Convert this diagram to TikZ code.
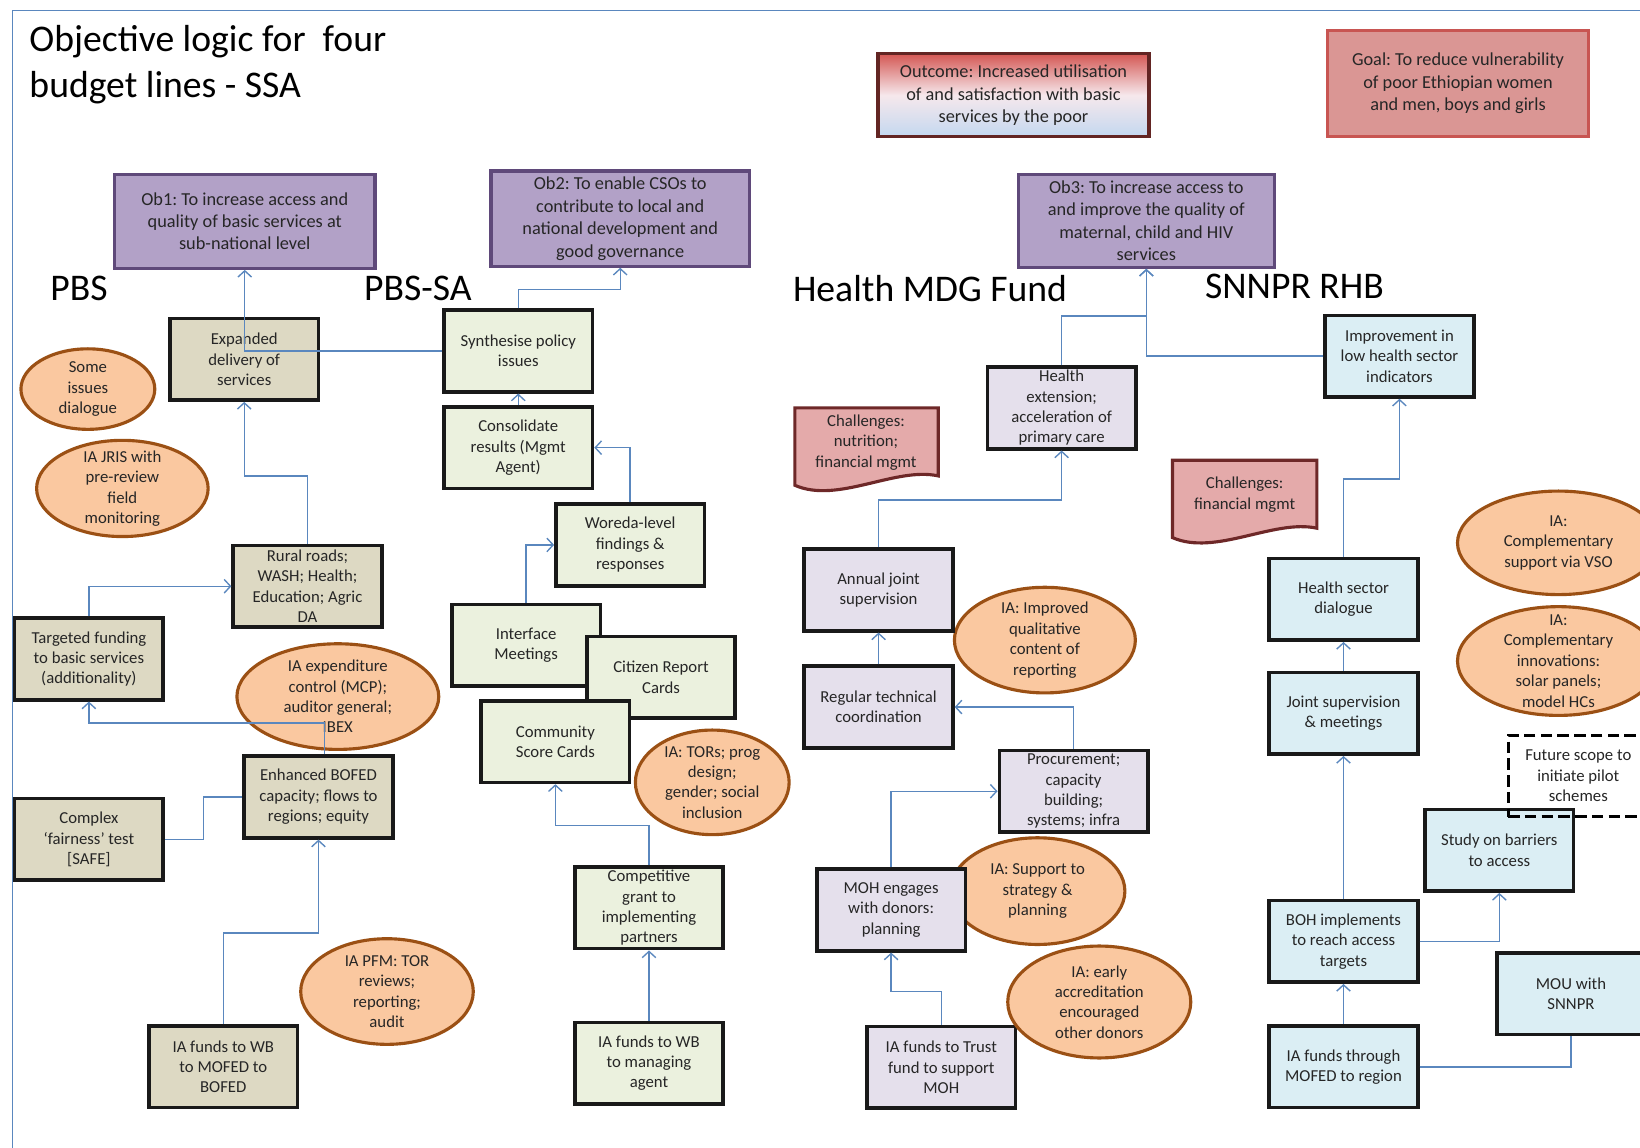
\documentclass[tikz,border=0pt]{standalone}
\usepackage{fontspec}
\setmainfont{Carlito}
\usetikzlibrary{shapes.geometric,arrows.meta,calc}
\pgfdeclarelayer{background}
\pgfsetlayers{background,main}
\definecolor{tanF}{RGB}{221,217,195}
\definecolor{grnF}{RGB}{235,241,222}
\definecolor{lavF}{RGB}{229,224,236}
\definecolor{bluF}{RGB}{219,238,244}
\definecolor{ellF}{RGB}{250,200,160}
\definecolor{ellD}{RGB}{155,80,20}
\definecolor{obF}{RGB}{178,161,199}
\definecolor{obD}{RGB}{95,73,122}
\definecolor{goalF}{RGB}{218,150,148}
\definecolor{goalD}{RGB}{200,85,82}
\definecolor{outD}{RGB}{99,37,35}
\definecolor{outTop}{RGB}{212,88,84}
\definecolor{outMid}{RGB}{246,232,236}
\definecolor{outBot}{RGB}{196,216,240}
\definecolor{chF}{RGB}{228,170,170}
\definecolor{chD}{RGB}{110,40,40}
\definecolor{connc}{RGB}{90,135,190}
\definecolor{txtc}{RGB}{38,38,38}
\definecolor{boxD}{RGB}{25,25,25}
\frenchspacing
\begin{document}
\begin{tikzpicture}[x=1pt,y=-1pt,
  base/.style={align=center, text=txtc, font=\fontsize{16}{19.5}\selectfont, inner sep=2pt},
  tbox/.style={base, rectangle, draw=boxD, line width=3.5pt, minimum width=142pt, minimum height=78pt},
  tanbox/.style={tbox, fill=tanF},
  grnbox/.style={tbox, fill=grnF},
  lavbox/.style={tbox, fill=lavF},
  blubox/.style={tbox, fill=bluF},
  ell/.style={base, ellipse, draw=ellD, fill=ellF, line width=3pt, inner xsep=0pt, inner ysep=-14pt},
  obbox/.style={base, rectangle, draw=obD, fill=obF, line width=3pt, font=\fontsize{17.5}{21.5}\selectfont},
  lbl/.style={anchor=base west, inner sep=0pt, text=black, font=\fontsize{36}{42}\selectfont},
  docst/.style={fill=chF, draw=chD, line width=3pt},
  arr/.style={draw=connc, line width=1.3pt, -{Straight Barb[length=6pt,width=13pt]}},
  plainc/.style={draw=connc, line width=1.3pt}
]
\useasboundingbox (0,0) rectangle (1568,1097);
\begin{pgfonlayer}{background}
\fill[white] (0,0) rectangle (1568,1097);
\draw[connc, line width=1.6pt] (12,1110) -- (12,10) -- (1580,10);
\end{pgfonlayer}

% title and column labels
\node[anchor=north west, inner sep=0pt, align=left, text=black, font=\fontsize{36}{44}\selectfont] (title) at (28,24) {Objective logic for\ \ four\\budget lines - SSA};
\node[lbl] (lpbs) at (48,287) {PBS};
\node[lbl] (lpbssa) at (348,287) {PBS-SA};
\node[lbl] (lhealth) at (758,288) {Health MDG Fund};
\node[lbl] (lsnnpr) at (1152,285) {SNNPR RHB};

% top level
\node[obbox, minimum width=249pt, minimum height=90pt] (ob1) at (234,211.5) {Ob1: To increase access and\\quality of basic services at\\sub-national level};
\node[obbox, minimum width=247pt, minimum height=91pt] (ob2) at (593,209) {Ob2: To enable CSOs to\\contribute to local and\\national development and\\good governance};
\node[obbox, minimum width=245pt, minimum height=89pt] (ob3) at (1096,211) {Ob3: To increase access to\\and improve the quality of\\maternal, child and HIV\\services};
\node[base, rectangle, draw=outD, line width=3pt, top color=outTop, bottom color=outBot, middle color=outMid, minimum width=259pt, minimum height=79pt, font=\fontsize{17.5}{21.5}\selectfont] (outc) at (969,91) {Outcome: Increased utilisation\\of and satisfaction with basic\\services by the poor};
\node[base, rectangle, draw=goalD, fill=goalF, line width=3pt, minimum width=249pt, minimum height=101pt, font=\fontsize{17.5}{21.5}\selectfont] (goal) at (1394,80) {Goal: To reduce vulnerability\\of poor Ethiopian women\\and men, boys and girls};

% PBS ellipses
\node[ell, minimum width=128pt, minimum height=77pt] (e1) at (84,372) {Some\\issues\\dialogue};
\node[ell, minimum width=164pt, minimum height=92pt] (e2) at (117,467) {IA JRIS with\\pre-review\\field\\monitoring};
\node[ell, minimum width=193pt, minimum height=101pt] (e3) at (323,666) {IA expenditure\\control (MCP);\\auditor general;\\IBEX};
\node[ell, minimum width=165pt, minimum height=101pt] (e4) at (370,948) {IA PFM: TOR\\reviews;\\reporting;\\audit};

% PBS boxes
\node[tanbox] (exp) at (233.5,343.5) {Expanded\\delivery of\\services};
\node[tanbox] (rural) at (294,560.5) {Rural roads;\\WASH; Health;\\Education; Agric\\DA};
\node[tanbox] (targ) at (85,630) {Targeted funding\\to basic services\\(additionality)};
\node[tanbox] (enh) at (304.5,762) {Enhanced BOFED\\capacity; flows to\\regions; equity};
\node[tanbox] (cplx) at (85,802.5) {Complex\\‘fairness’ test\\{[SAFE]}};
\node[tanbox] (iawb) at (213.5,1020) {IA funds to WB\\to MOFED to\\BOFED};

% PBS-SA
\node[ell, minimum width=147pt, minimum height=100pt] (e5) at (681,748) {IA: TORs; prog\\design;\\gender; social\\inclusion};
\node[grnbox] (synth) at (495.5,335.5) {Synthesise policy\\issues};
\node[grnbox] (cons) at (495.5,428) {Consolidate\\results (Mgmt\\Agent)};
\node[grnbox] (wor) at (602.5,521) {Woreda-level\\findings \&\\responses};
\node[grnbox] (intf) at (503,617) {Interface\\Meetings};
\node[grnbox] (cit) at (632,647.5) {Citizen Report\\Cards};
\node[grnbox] (comm) at (531,709) {Community\\Score Cards};
\node[grnbox] (comp) at (620.5,868) {Competitive\\grant to\\implementing\\partners};
\node[grnbox] (iawbm) at (620.5,1016.5) {IA funds to WB\\to managing\\agent};

% Health MDG Fund
\node[ell, minimum width=173pt, minimum height=101pt] (e6) at (999,612) {IA: Improved\\qualitative\\content of\\reporting};
\node[ell, minimum width=167pt, minimum height=102pt] (e7) at (992,852) {IA: Support to\\strategy \&\\planning};
\node[lavbox] (hext) at (1015,390) {Health\\extension;\\acceleration of\\primary care};
\node[lavbox] (ann) at (840,564) {Annual joint\\supervision};
\node[lavbox] (reg) at (840,676) {Regular technical\\coordination};
\node[lavbox] (proc) at (1026.5,756.5) {Procurement;\\capacity\\building;\\systems; infra};
\node[lavbox] (moh) at (852,870) {MOH engages\\with donors:\\planning};
\node[lavbox] (trust) at (900,1020.5) {IA funds to Trust\\fund to support\\MOH};
\node[ell, minimum width=175pt, minimum height=107pt] (e8) at (1051,958) {IA: early\\accreditation\\encouraged\\other donors};
\node[base] (ch1) at (828,423) {Challenges:\\nutrition;\\financial mgmt};

% SNNPR RHB
\node[ell, minimum width=193pt, minimum height=99pt] (e9) at (1490,519) {IA:\\Complementary\\support via VSO};
\node[ell, minimum width=193pt, minimum height=104pt] (e10) at (1490,632) {IA:\\Complementary\\innovations:\\solar panels;\\model HCs};
\node[blubox] (impr) at (1338,340.5) {Improvement in\\low health sector\\indicators};
\node[blubox] (hsd) at (1284.5,573) {Health sector\\dialogue};
\node[blubox] (joint) at (1284.5,682) {Joint supervision\\\& meetings};
\node[blubox] (boh) at (1284.5,900) {BOH implements\\to reach access\\targets};
\node[blubox] (iamof) at (1284.5,1020) {IA funds through\\MOFED to region};
\node[blubox] (study) at (1433.5,813) {Study on barriers\\to access};
\node[blubox] (mou) at (1502,950) {MOU with\\SNNPR};
\node[base, rectangle, draw=black, line width=3pt, dash pattern=on 11pt off 5pt, minimum width=134pt, minimum height=78pt] (fut) at (1509,742) {Future scope to\\initiate pilot\\schemes};
\node[base] (ch2) at (1190,473) {Challenges:\\financial mgmt};

% document shapes behind their texts
\begin{pgfonlayer}{background}
\filldraw[docst] (760,390) -- (897,390) -- (897,455) .. controls (856,446) and (801,482) .. (760,464) -- cycle;
\filldraw[docst] (1121,440) -- (1259,440) -- (1259,505) .. controls (1218,496) and (1162,532) .. (1121,514) -- cycle;
\end{pgfonlayer}

% connectors PBS
\draw[arr] (synth.west) -| (ob1.south);
\draw[arr] (rural.north) -- (rural.north |- 0,455) -| (exp.south);
\draw[arr] (targ.north) |- (rural.west);
\draw[arr] ($(enh.north)+(6,0)$) -- ++(0,-30) -| (targ.south);
\draw[plainc] (cplx.east) -- ++(37,0) |- (enh.west);
\draw[arr] (iawb.north) -- (iawb.north |- 0,892) -| (enh.south);
% connectors PBS-SA
\draw[arr] (synth.north) -- ++(0,-18) -| (ob2.south);
\draw[arr] (cons.north) -- (synth.south);
\draw[arr] (wor.north) |- (cons.east);
\draw[arr] (intf.north) |- (wor.west);
\draw[arr] (comp.north) -- ++(0,-38) -| (comm.south);
\draw[arr] (iawbm.north) -- (comp.south);
% connectors Health
\draw[arr] (hext.north) -- (hext.north |- 0,302) -| (ob3.south);
\draw[arr] (impr.west) -| (ob3.south);
\draw[arr] (ann.north) -- (ann.north |- 0,478) -| (hext.south);
\draw[arr] (reg.north) -- (ann.south);
\draw[arr] (proc.north) |- (reg.east);
\draw[arr] (moh.north) |- (proc.west);
\draw[arr] (trust.north) -- (trust.north |- 0,948) -| (moh.south);
% connectors SNNPR
\draw[arr] (hsd.north) -- (hsd.north |- 0,458) -| (impr.south);
\draw[arr] (joint.north) -- (hsd.south);
\draw[arr] (boh.north) -- (joint.south);
\draw[arr] (iamof.north) -- (boh.south);
\draw[arr] (boh.east) -| (study.south);
\draw[plainc] (iamof.east) -| (mou.south);
\end{tikzpicture}
\end{document}
